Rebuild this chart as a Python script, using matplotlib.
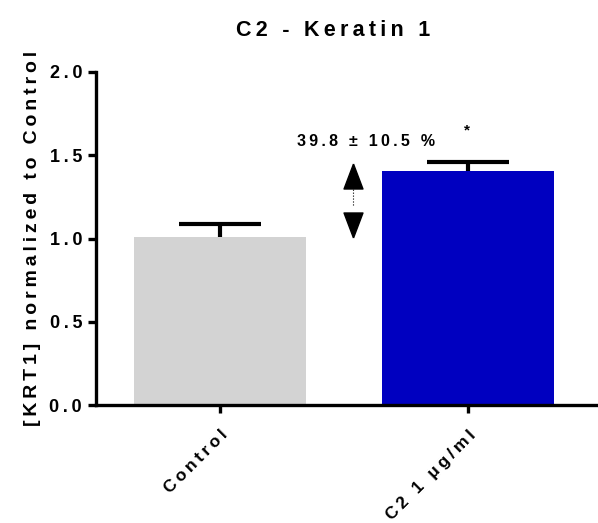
import matplotlib
matplotlib.use("Agg")
import matplotlib.pyplot as plt
from matplotlib.path import Path
from matplotlib.transforms import ScaledTranslation

# values
groups = ["Control", "C2 1 \u03bcg/ml"]
means = [1.01, 1.405]
sems = [0.075, 0.055]
bar_colors = ["#d3d3d3", "#0000c0"]
pct_text = "39.8 \u00b1 10.5 %"
yticks = [0, 0.5, 1.0, 1.5, 2.0]

plt.rcParams['font.family'] = ['Liberation Sans', 'DejaVu Sans']
plt.rcParams['font.weight'] = 'bold'


def spaced(s, sp='\u2009'):
    # the original has wide letter tracking
    return sp.join(s)


fig = plt.figure(figsize=(5.98, 5.23), dpi=100)
ax = fig.add_axes([96 / 598, 1 - 405 / 523, 1 - 96 / 598, (405 - 72) / 523])

x = list(range(len(groups)))
ax.bar(x, means, width=0.69, color=bar_colors, zorder=2)
# upper error bars only
tops = [m + e for m, e in zip(means, sems)]
ax.vlines(x, means, tops, color='black', lw=3, zorder=3)
ax.hlines(tops, [i - 0.165 for i in x], [i + 0.165 for i in x],
          color='black', lw=3, zorder=3)

ax.set_xlim(-0.5, 1.524)
ax.set_ylim(0, 2.0)
ax.set_yticks(yticks)
ax.set_yticklabels([spaced(f"{v:.1f}") for v in yticks],
                   fontsize=13, fontweight='bold')
ax.set_xticks(x)
ax.set_xticklabels([spaced(g) for g in groups], rotation=45, ha='right',
                   rotation_mode='anchor', fontsize=12.5, fontweight='bold')
shift = ScaledTranslation(-7 / 100, 0, fig.dpi_scale_trans)
for lab in ax.get_xticklabels():
    lab.set_transform(lab.get_transform() + shift)

for s in ['top', 'right']:
    ax.spines[s].set_visible(False)
for s in ['left', 'bottom']:
    ax.spines[s].set_linewidth(2.4)
ax.tick_params(axis='y', width=2.4, length=6, pad=4)
ax.tick_params(axis='x', width=2.4, length=6, pad=10)

ax.set_ylabel(spaced("[KRT1] normalized to Control"), fontsize=14,
              fontweight='bold', labelpad=6)
ax.set_title(spaced("C2 - Keratin 1"), fontsize=15.5, fontweight='bold',
             pad=26, x=0.472)

# double-headed arrow showing the change between the groups
up = Path([(0, 0.66), (-0.5, -0.66), (0.5, -0.66), (0, 0.66)])
down = Path([(0, -0.66), (-0.5, 0.66), (0.5, 0.66), (0, -0.66)])
arr_x = 0.535
ax.plot([arr_x, arr_x], [1.2, 1.3], color='black', lw=0.8, ls=':', zorder=3)
ax.plot(arr_x, 1.378, marker=up, color='black', markersize=18, zorder=4)
ax.plot(arr_x, 1.081, marker=down, color='black', markersize=18, zorder=4)
ax.text(0.59, 1.58, spaced(pct_text), ha='center', va='center', fontsize=11.5,
        fontweight='bold')
ax.text(0.995, 1.65, "*", ha='center', va='center', fontsize=11,
        fontweight='bold')

fig.savefig("out.png", dpi=100)
